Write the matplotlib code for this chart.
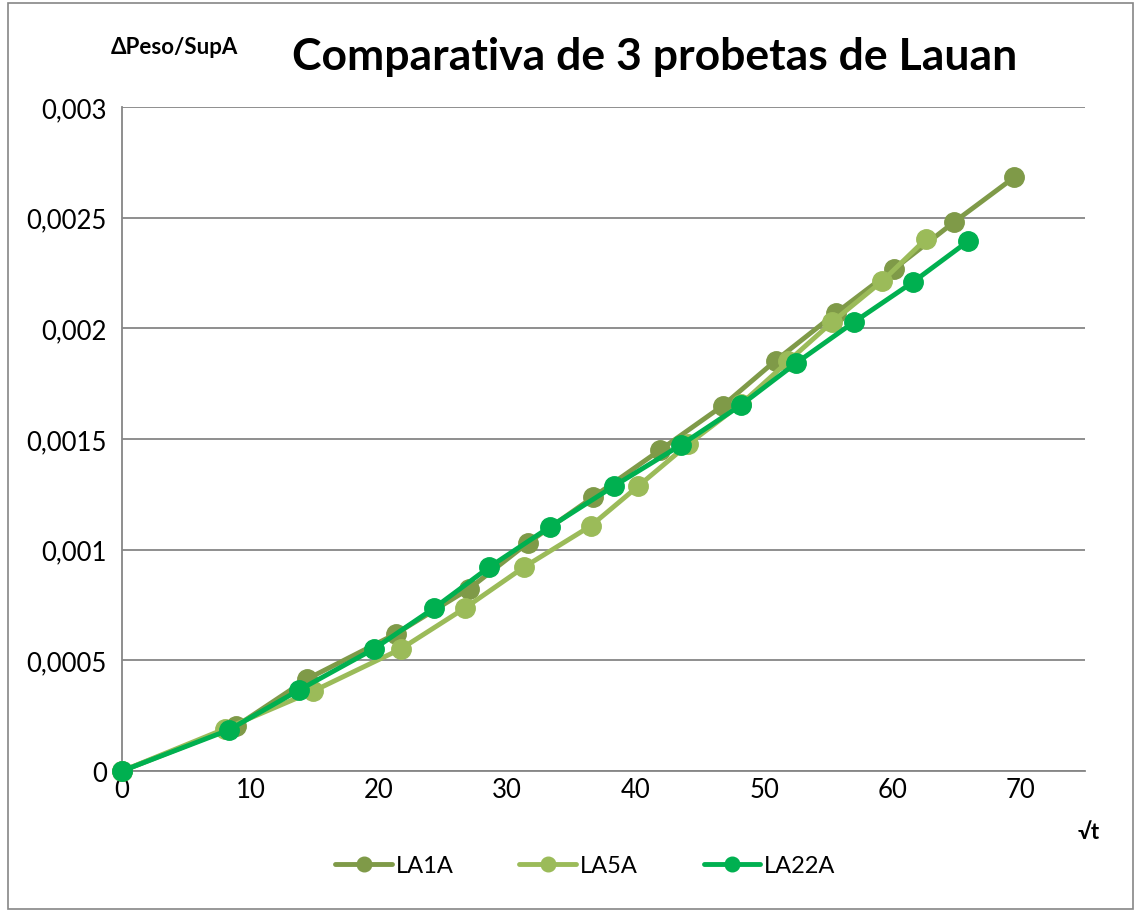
import matplotlib.pyplot as plt
import matplotlib.ticker as ticker
from matplotlib.patches import Rectangle

# sqrt(t) vs delta peso / superficie
la1a_x = [0, 8.9, 14.4, 21.3, 27.0, 31.6, 36.7, 41.9, 46.8, 50.9, 55.6, 60.1, 64.8, 69.5]
la1a_y = [0, 0.000203, 0.000415, 0.000619, 0.000822, 0.00103, 0.001238, 0.00145,
          0.001651, 0.001854, 0.002069, 0.002267, 0.00248, 0.002683]

la5a_x = [0, 8.0, 14.9, 21.7, 26.7, 31.3, 36.5, 40.2, 44.1, 48.2, 51.9, 55.3, 59.2, 62.6]
la5a_y = [0, 0.00019, 0.000361, 0.000551, 0.000736, 0.000921, 0.001107, 0.001287,
          0.001477, 0.001658, 0.001852, 0.002028, 0.002213, 0.002403]

la22a_x = [0, 8.3, 13.8, 19.6, 24.3, 28.6, 33.3, 38.3, 43.5, 48.2, 52.5, 57.0, 61.6, 65.9]
la22a_y = [0, 0.000185, 0.000366, 0.000551, 0.000736, 0.000921, 0.001102, 0.001287,
           0.001472, 0.001653, 0.001843, 0.002028, 0.002209, 0.002394]

series_names = ["LA1A", "LA5A", "LA22A"]
colors = ["#7F9A48", "#9BBB59", "#00B050"]

plt.rcParams['font.family'] = ['Lato', 'DejaVu Sans']

f = plt.figure(figsize=(11.35, 9.12), dpi=100)
ax = f.add_axes([0.1075, 0.1535, 0.956 - 0.1075, 0.8816 - 0.1535])

for xs, ys, name, c in zip([la1a_x, la5a_x, la22a_x], [la1a_y, la5a_y, la22a_y],
                           series_names, colors):
    ax.plot(xs, ys, color=c, lw=3.5, marker='o', ms=14, label=name,
            solid_capstyle='round', clip_on=False, zorder=3)

ax.set_xlim(0, 75)
ax.set_ylim(0, 0.003)
ax.xaxis.set_major_locator(ticker.FixedLocator([0, 10, 20, 30, 40, 50, 60, 70]))
ax.yaxis.set_major_locator(ticker.MultipleLocator(0.0005))


def comma_fmt(v, pos):
    if abs(v) < 1e-12:
        return "0"
    return ("%g" % v).replace(".", ",")


ax.yaxis.set_major_formatter(ticker.FuncFormatter(comma_fmt))
ax.tick_params(length=0, labelsize=18.5, colors='black')
ax.tick_params(axis='x', pad=4)
ax.tick_params(axis='y', pad=11)
ax.grid(axis='y', color='#868686', lw=1.3)
ax.set_axisbelow(True)
for s in ['top', 'right']:
    ax.spines[s].set_visible(False)
for s in ['left', 'bottom']:
    ax.spines[s].set_color('#868686')
    ax.spines[s].set_linewidth(1.3)

f.text(0.5765, 0.937, "Comparativa de 3 probetas de Lauan", ha='center', va='center',
       fontsize=32, fontweight='bold')
f.text(0.154, 0.948, "ΔPeso/SupA", ha='center', va='center', fontsize=16,
       fontweight='bold')
f.text(0.9595, 0.087, "√t", ha='center', va='center', fontsize=16, fontweight='bold')

ax.legend(loc='center', bbox_to_anchor=(0.481, -0.142), ncol=3, frameon=False,
          fontsize=17, markerscale=0.75, handlelength=2.4, columnspacing=2.8,
          handletextpad=0.15)

f.patches.append(Rectangle((0.007, 0.002), 0.991, 0.994, transform=f.transFigure,
                           fill=False, edgecolor='#868686', lw=1.2))

plt.savefig("out.png", dpi=100)
plt.close('all')
